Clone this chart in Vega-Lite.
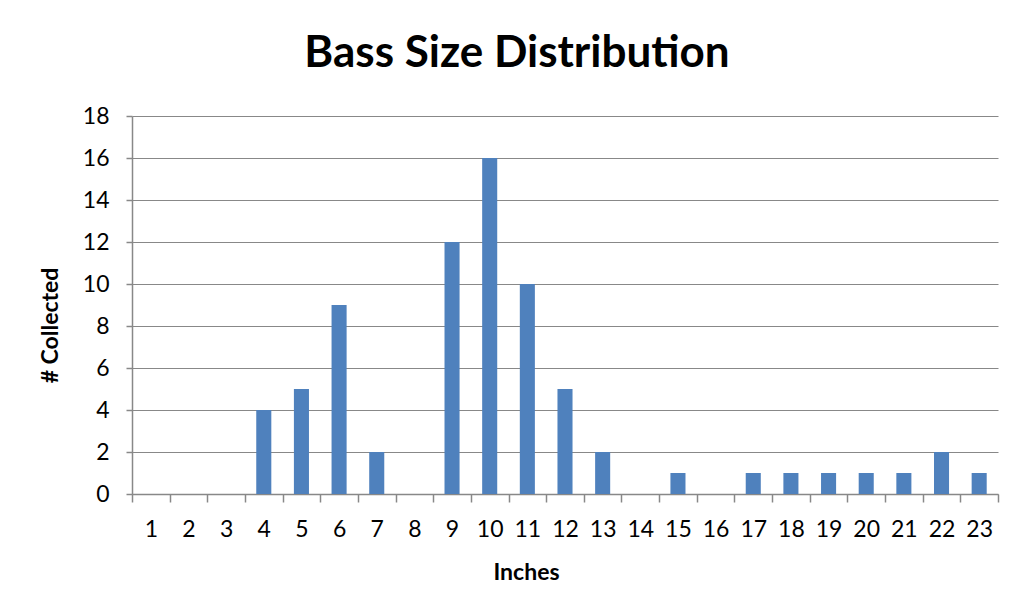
{
  "$schema": "https://vega.github.io/schema/vega-lite/v6.json",
  "width": 866,
  "height": 378,
  "autosize": {"type": "none"},
  "padding": {"left": 132, "top": 116, "right": 17, "bottom": 121},
  "background": "white",
  "title": {
    "text": "Bass Size Distribution",
    "font": "Lato",
    "fontSize": 44,
    "fontWeight": "bold",
    "color": "black",
    "anchor": "middle",
    "dx": -48,
    "offset": 29
  },
  "data": {
    "values": [
      {"inches": "1", "count": 0},
      {"inches": "2", "count": 0},
      {"inches": "3", "count": 0},
      {"inches": "4", "count": 4},
      {"inches": "5", "count": 5},
      {"inches": "6", "count": 9},
      {"inches": "7", "count": 2},
      {"inches": "8", "count": 0},
      {"inches": "9", "count": 12},
      {"inches": "10", "count": 16},
      {"inches": "11", "count": 10},
      {"inches": "12", "count": 5},
      {"inches": "13", "count": 2},
      {"inches": "14", "count": 0},
      {"inches": "15", "count": 1},
      {"inches": "16", "count": 0},
      {"inches": "17", "count": 1},
      {"inches": "18", "count": 1},
      {"inches": "19", "count": 1},
      {"inches": "20", "count": 1},
      {"inches": "21", "count": 1},
      {"inches": "22", "count": 2},
      {"inches": "23", "count": 1}
    ]
  },
  "mark": {"type": "bar", "color": "#4F81BD", "width": {"band": 0.4}},
  "encoding": {
    "x": {
      "field": "inches",
      "type": "ordinal",
      "sort": null,
      "scale": {"paddingInner": 0, "paddingOuter": 0},
      "axis": {
        "title": "Inches",
        "labelAngle": 0,
        "tickBand": "extent",
        "grid": false,
        "tickSize": 8,
        "labelPadding": 16,
        "titleX": 394,
        "titleY": 78,
        "titleBaseline": "middle"
      }
    },
    "y": {
      "field": "count",
      "type": "quantitative",
      "scale": {"domain": [0, 18], "nice": false},
      "axis": {
        "title": "# Collected",
        "values": [0, 2, 4, 6, 8, 10, 12, 14, 16, 18],
        "tickSize": 6,
        "labelPadding": 17,
        "titleX": -82,
        "titleY": 209,
        "titleAngle": 270,
        "titleAlign": "center",
        "titleBaseline": "middle"
      }
    }
  },
  "config": {
    "view": {"stroke": null},
    "axis": {
      "labelFont": "Lato",
      "labelFontSize": 23,
      "labelColor": "black",
      "titleFont": "Lato",
      "titleFontSize": 23,
      "titleFontWeight": "bold",
      "titleColor": "black",
      "domainColor": "#888888",
      "tickColor": "#888888",
      "gridColor": "#888888",
      "gridOpacity": 1,
      "domainWidth": 1.5,
      "tickWidth": 1.5,
      "gridWidth": 1
    }
  }
}
